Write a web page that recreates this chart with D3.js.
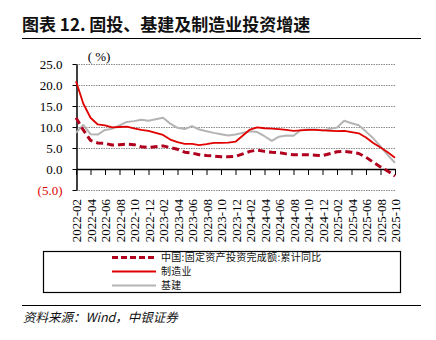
<!DOCTYPE html>
<html>
<head>
<meta charset="utf-8">
<script src="https://cdn.jsdelivr.net/npm/d3@7/dist/d3.min.js"></script>
<style>
  html, body { margin: 0; padding: 0; background: #fff; }
  svg { display: block; }
  .serif { font-family: "Liberation Serif", "Times New Roman", "DejaVu Serif", serif; }
</style>
</head>
<body>
<svg id="chart" width="436" height="340"></svg>
<script>
// Monthly categories (January values are not published, so they stay null)
const months = [
  "2022-02","2022-03","2022-04","2022-05","2022-06","2022-07","2022-08","2022-09","2022-10","2022-11","2022-12",
  "2023-01","2023-02","2023-03","2023-04","2023-05","2023-06","2023-07","2023-08","2023-09","2023-10","2023-11","2023-12",
  "2024-01","2024-02","2024-03","2024-04","2024-05","2024-06","2024-07","2024-08","2024-09","2024-10","2024-11","2024-12",
  "2025-01","2025-02","2025-03","2025-04","2025-05","2025-06","2025-07","2025-08","2025-09","2025-10"
];

// 中国:固定资产投资完成额:累计同比 (%)
const faiYoY = [
  12.2, 9.3, 6.8, 6.2, 6.1, 5.7, 5.8, 5.9, 5.8, 5.3, 5.1,
  null, 5.5, 5.1, 4.7, 4.0, 3.8, 3.4, 3.2, 3.1, 2.9, 2.9, 3.0,
  null, 4.2, 4.5, 4.2, 4.0, 3.9, 3.6, 3.4, 3.4, 3.4, 3.3, 3.2,
  null, 4.1, 4.2, 4.0, 3.7, 2.8, 1.6, 0.5, -0.5, -1.7
];

// 制造业 (%)
const mfgYoY = [
  20.9, 15.6, 12.2, 10.6, 10.4, 9.9, 10.0, 10.1, 9.7, 9.3, 9.1,
  null, 8.1, 7.0, 6.4, 6.0, 6.0, 5.7, 5.9, 6.2, 6.2, 6.3, 6.5,
  null, 9.4, 9.9, 9.7, 9.6, 9.5, 9.3, 9.1, 9.2, 9.3, 9.3, 9.2,
  null, 9.0, 9.1, 8.8, 8.5, 7.5, 6.2, 5.1, 4.0, 2.7
];

// 基建 (%)
const infraYoY = [
  8.6, 10.5, 8.3, 8.2, 9.3, 9.6, 10.4, 11.2, 11.4, 11.7, 11.5,
  null, 12.2, 10.8, 9.8, 9.5, 10.2, 9.4, 9.0, 8.6, 8.3, 8.0, 8.2,
  null, 9.0, 8.8, 7.8, 6.7, 7.7, 8.0, 7.9, 9.3, 9.4, 9.4, 9.2,
  null, 9.9, 11.5, 10.9, 10.4, 8.9, 7.3, 5.4, 3.3, 1.5
];

const yTicks = [-5, 0, 5, 10, 15, 20, 25];
const xTickLabels = months.filter((m, i) => i % 2 === 0);

const seriesNames = ["中国:固定资产投资完成额:累计同比", "制造业", "基建"];

const cjk = "'Noto Sans CJK SC', 'Noto Sans', sans-serif";

const svg = d3.select("#chart");

// Title and rules
svg.append("text")
  .attr("x", 22).attr("y", 31)
  .attr("font-family", cjk)
  .attr("font-size", 17)
  .attr("font-weight", "bold")
  .attr("fill", "#111")
  .text("图表 12. 固投、基建及制造业投资增速");

svg.append("line")
  .attr("x1", 22).attr("x2", 421).attr("y1", 38.5).attr("y2", 38.5)
  .attr("stroke", "#000").attr("stroke-width", 1);

// Scales
const x = d3.scalePoint().domain(months).range([76, 395]).padding(0);
const y = d3.scaleLinear().domain([-5, 25]).range([190, 64]);

// Dotted gridlines
svg.append("g")
  .selectAll("line")
  .data(yTicks.filter(t => t !== 0))
  .join("line")
  .attr("x1", 76).attr("x2", 395)
  .attr("y1", d => y(d) + 0.5).attr("y2", d => y(d) + 0.5)
  .attr("stroke", "#8a8a8a")
  .attr("stroke-width", 1)
  .attr("stroke-dasharray", "1.5,1");

// Y axis
const yAxis = svg.append("g")
  .attr("transform", "translate(76.5,0)")
  .call(d3.axisLeft(y).tickValues(yTicks).tickSize(4).tickSizeOuter(0).tickPadding(10)
    .tickFormat(d => d < 0 ? "(" + Math.abs(d).toFixed(1) + ")" : d.toFixed(1)));
yAxis.attr("font-family", null);
yAxis.select(".domain").attr("stroke", "#000").attr("stroke-width", 1.5);
yAxis.selectAll(".tick line").attr("stroke", "#000");
yAxis.selectAll(".tick text")
  .attr("class", "serif")
  .attr("font-size", 13)
  .attr("fill", d => d < 0 ? "#e00000" : "#000");

// X axis along zero with downward ticks
const xAxis = svg.append("g")
  .attr("transform", `translate(0,${y(0)})`)
  .call(d3.axisBottom(x).tickValues(xTickLabels).tickSize(6).tickSizeOuter(0).tickFormat(""));
xAxis.select(".domain").attr("stroke", "#000").attr("stroke-width", 1.5);
xAxis.selectAll(".tick line").attr("stroke", "#000");

// Rotated category labels below the plot
const xLabels = svg.append("g")
  .attr("transform", `translate(0,${y(-5) + 9})`)
  .call(d3.axisBottom(x).tickValues(xTickLabels).tickSize(0).tickPadding(0));
xLabels.attr("font-family", null);
xLabels.select(".domain").remove();
xLabels.selectAll(".tick text")
  .attr("class", "serif")
  .attr("font-size", 13)
  .attr("fill", "#000")
  .attr("text-anchor", "end")
  .attr("dy", null)
  .attr("y", 0)
  .attr("x", 0)
  .attr("transform", "rotate(-90) translate(0,4.5)");

// Unit label
svg.append("text")
  .attr("class", "serif")
  .attr("x", 99).attr("y", 61)
  .attr("text-anchor", "middle")
  .attr("font-size", 13)
  .text("( %)");

// Series lines
const line = d3.line()
  .x(d => x(d.m))
  .y(d => y(d.v));

function pts(values) {
  return values.map((v, i) => ({ m: months[i], v })).filter(d => d.v !== null);
}

const styles = [
  { color: "#b0001e", width: 3, dash: "7,4" },
  { color: "#e00000", width: 1.8, dash: null },
  { color: "#b4b4b4", width: 2, dash: null }
];
const seriesData = [faiYoY, mfgYoY, infraYoY];

const drawOrder = [2, 1, 0];
drawOrder.forEach(k => {
  svg.append("path")
    .datum(pts(seriesData[k]))
    .attr("fill", "none")
    .attr("stroke", styles[k].color)
    .attr("stroke-width", styles[k].width)
    .attr("stroke-dasharray", styles[k].dash)
    .attr("stroke-linejoin", "round")
    .attr("d", line);
});

// Legend
svg.append("rect")
  .attr("x", 43.5).attr("y", 251.5).attr("width", 357).attr("height", 41)
  .attr("fill", "none").attr("stroke", "#000").attr("stroke-width", 1.2);

const legendRows = [257.5, 271.5, 285.5];
seriesNames.forEach((name, k) => {
  svg.append("line")
    .attr("x1", 112).attr("x2", 156)
    .attr("y1", legendRows[k]).attr("y2", legendRows[k])
    .attr("stroke", styles[k].color)
    .attr("stroke-width", styles[k].width)
    .attr("stroke-dasharray", styles[k].dash ? "6,3" : null);
  svg.append("text")
    .attr("x", 161).attr("y", legendRows[k])
    .attr("dy", "0.36em")
    .attr("font-family", cjk)
    .attr("font-size", 10)
    .attr("letter-spacing", 0.3)
    .attr("fill", "#111")
    .text(name);
});

// Source rule and note
svg.append("line")
  .attr("x1", 22).attr("x2", 421).attr("y1", 305.5).attr("y2", 305.5)
  .attr("stroke", "#000").attr("stroke-width", 1);

svg.append("text")
  .attr("x", 23).attr("y", 322)
  .attr("font-family", cjk)
  .attr("font-size", 12.5)
  .attr("font-style", "italic")
  .attr("fill", "#111")
  .text("资料来源：Wind，中银证券");
</script>
</body>
</html>
